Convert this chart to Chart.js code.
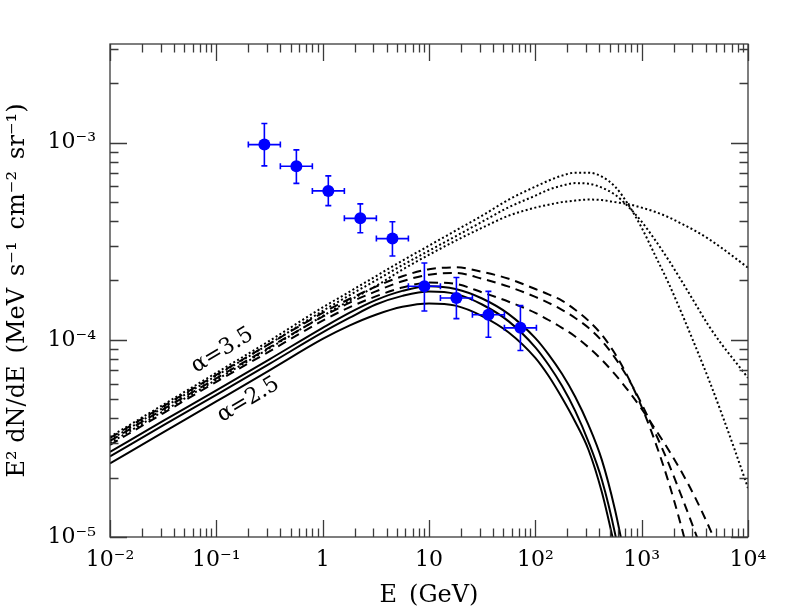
<!DOCTYPE html>
<html>
<head>
<meta charset="utf-8">
<script src="https://cdn.jsdelivr.net/npm/chart.js@4.4.1/dist/chart.umd.min.js"></script>
<style>
  html, body { margin: 0; padding: 0; background: #fff; }
  #wrap { width: 789px; height: 616px; }
</style>
</head>
<body>
<div id="wrap"><canvas id="sedChart" width="789" height="616"></canvas></div>
<script>
// ENERGY GRID (GeV) shared by the model curves
const energyGrid = [0.01, 0.0316, 0.1, 0.316, 1, 1.78, 3.16, 5.62, 10, 17.8, 31.6, 56.2, 100, 133, 178, 237,
  316, 422, 562, 750, 1000, 1330, 1780, 2370, 3160, 4220, 5620, 7500, 10000];

// MODEL CURVES, E^2 dN/dE (MeV s^-1 cm^-2 sr^-1)
const solidHigh = [2.70e-5, 3.88e-5, 5.54e-5, 7.96e-5, 1.15e-4, 1.37e-4, 1.59e-4, 1.77e-4, 1.87e-4, 1.81e-4, 1.62e-4,
  1.35e-4, 1.02e-4, 8.44e-5, 6.72e-5, 5.14e-5, 3.70e-5, 2.46e-5, 1.37e-5, 6.41e-6, null, null, null, null, null, null, null, null, null];
const solidMid = [2.56e-5, 3.68e-5, 5.26e-5, 7.55e-5, 1.09e-4, 1.29e-4, 1.51e-4, 1.67e-4, 1.76e-4, 1.71e-4, 1.51e-4,
  1.24e-4, 9.16e-5, 7.47e-5, 5.84e-5, 4.36e-5, 3.04e-5, 1.95e-5, 1.04e-5, 4.52e-6, null, null, null, null, null, null, null, null, null];
const solidLow = [2.36e-5, 3.39e-5, 4.87e-5, 7.00e-5, 1.01e-4, 1.18e-4, 1.34e-4, 1.47e-4, 1.53e-4, 1.49e-4, 1.32e-4,
  1.09e-4, 8.10e-5, 6.57e-5, 5.08e-5, 3.84e-5, 2.77e-5, 1.69e-5, 8.79e-6, null, null, null, null, null, null, null, null, null, null];

const dashedHigh = [3.18e-5, 4.60e-5, 6.64e-5, 9.54e-5, 1.37e-4, 1.61e-4, 1.86e-4, 2.10e-4, 2.28e-4, 2.33e-4, 2.21e-4,
  2.04e-4, 1.81e-4, 1.70e-4, 1.58e-4, 1.42e-4, 1.25e-4, 1.06e-4, 8.49e-5, 6.41e-5, 4.57e-5, 3.07e-5, 1.92e-5, 1.12e-5,
  6.12e-6, null, null, null, null];
const dashedMid = [3.07e-5, 4.44e-5, 6.38e-5, 9.16e-5, 1.31e-4, 1.54e-4, 1.76e-4, 1.98e-4, 2.14e-4, 2.18e-4, 2.04e-4,
  1.86e-4, 1.65e-4, 1.54e-4, 1.42e-4, 1.29e-4, 1.15e-4, 9.88e-5, 8.10e-5, 6.34e-5, 4.73e-5, 3.41e-5, 2.38e-5, 1.61e-5,
  1.07e-5, 6.96e-6, null, null, null];
const dashedLow = [2.93e-5, 4.24e-5, 6.12e-5, 8.74e-5, 1.25e-4, 1.46e-4, 1.66e-4, 1.84e-4, 1.95e-4, 1.92e-4, 1.74e-4,
  1.56e-4, 1.37e-4, 1.26e-4, 1.15e-4, 1.04e-4, 9.16e-5, 7.91e-5, 6.68e-5, 5.51e-5, 4.46e-5, 3.55e-5, 2.78e-5, 2.14e-5,
  1.60e-5, 1.15e-5, 8.10e-6, null, null];

const dottedHigh = [3.22e-5, 4.68e-5, 6.80e-5, 9.88e-5, 1.46e-4, 1.75e-4, 2.10e-4, 2.52e-4, 3.00e-4, 3.58e-4, 4.26e-4,
  5.14e-4, 5.98e-4, 6.41e-4, 6.80e-4, 7.04e-4, 7.04e-4, 6.72e-4, 5.98e-4, 4.84e-4, 3.70e-4, 2.70e-4, 1.95e-4, 1.37e-4,
  9.43e-5, 6.41e-5, 4.26e-5, 2.77e-5, 1.77e-5];
const dottedMid = [3.11e-5, 4.52e-5, 6.57e-5, 9.54e-5, 1.40e-4, 1.68e-4, 2.00e-4, 2.39e-4, 2.83e-4, 3.35e-4, 3.97e-4,
  4.70e-4, 5.38e-4, 5.77e-4, 6.05e-4, 6.23e-4, 6.19e-4, 5.91e-4, 5.44e-4, 4.73e-4, 3.97e-4, 3.22e-4, 2.55e-4, 1.99e-4,
  1.54e-4, 1.19e-4, 9.54e-5, 7.82e-5, 6.41e-5];
const dottedLow = [3.00e-5, 4.34e-5, 6.27e-5, 9.06e-5, 1.32e-4, 1.58e-4, 1.87e-4, 2.27e-4, 2.70e-4, 3.18e-4, 3.70e-4,
  4.26e-4, 4.68e-4, 4.84e-4, 4.99e-4, 5.08e-4, 5.14e-4, 5.11e-4, 4.99e-4, 4.87e-4, 4.68e-4, 4.46e-4, 4.19e-4, 3.88e-4,
  3.58e-4, 3.26e-4, 2.93e-4, 2.61e-4, 2.32e-4];

// MEASURED POINTS
const dataEnergy = [0.283, 0.566, 1.13, 2.26, 4.53, 9.05, 18.1, 36.2, 72.4];
const dataEnergyLow = [0.2, 0.4, 0.8, 1.6, 3.2, 6.4, 12.8, 25.6, 51.2];
const dataEnergyHigh = [0.4, 0.8, 1.6, 3.2, 6.4, 12.8, 25.6, 51.2, 102.4];
const dataFlux = [9.77e-4, 7.59e-4, 5.69e-4, 4.13e-4, 3.26e-4, 1.87e-4, 1.63e-4, 1.34e-4, 1.15e-4];
const dataFluxLow = [7.62e-4, 6.21e-4, 4.79e-4, 3.49e-4, 2.66e-4, 1.40e-4, 1.28e-4, 1.03e-4, 8.83e-5];
const dataFluxHigh = [1.25e-3, 9.18e-4, 6.78e-4, 4.89e-4, 3.97e-4, 2.45e-4, 2.07e-4, 1.76e-4, 1.49e-4];

// AXES
const xTickValues = [0.01, 0.1, 1, 10, 100, 1000, 10000];
const xTickLabels = ['10\u207B\u00B2', '10\u207B\u00B9', '1', '10', '10\u00B2', '10\u00B3', '10\u2074'];
const yTickValues = [1e-5, 1e-4, 1e-3];
const yTickLabels = ['10\u207B\u2075', '10\u207B\u2074', '10\u207B\u00B3'];

// CURVE LABELS
const curveNotes = [
  { text: '\u03B1=3.5', x: 0.114, y: 8.83e-5 },
  { text: '\u03B1=2.5', x: 0.2, y: 4.96e-5 }
];

Chart.defaults.font.family = "'DejaVu Serif', serif";
Chart.defaults.color = '#000';

function toPoints(xs, ys) {
  return xs.map((x, i) => ({ x: x, y: ys[i] }));
}

function curve(label, values, dash) {
  return {
    label: label,
    data: toPoints(energyGrid, values),
    showLine: true,
    borderColor: '#000',
    borderWidth: 2,
    borderDash: dash,
    borderCapStyle: 'butt',
    pointRadius: 0,
    cubicInterpolationMode: 'monotone',
    clip: 0,
    order: 2
  };
}

// inward ticks on all four sides + frame
const frameTicks = {
  id: 'frameTicks',
  afterDraw(chart) {
    const { ctx, chartArea: a, scales: { x, y } } = chart;
    ctx.save();
    ctx.strokeStyle = '#3a3a3a';
    ctx.lineWidth = 1.3;
    ctx.beginPath();
    for (let p = -2; p <= 4; p++) {
      for (let m = 1; m <= 9; m++) {
        const v = m * Math.pow(10, p);
        if (v > x.max * 1.0001) continue;
        const px = Math.round(x.getPixelForValue(v)) + 0.5;
        const len = m === 1 ? 17 : 8.5;
        ctx.moveTo(px, a.bottom); ctx.lineTo(px, a.bottom - len);
        ctx.moveTo(px, a.top); ctx.lineTo(px, a.top + len);
      }
    }
    for (let p = -5; p <= -3; p++) {
      for (let m = 1; m <= 9; m++) {
        const v = m * Math.pow(10, p);
        if (v > y.max) continue;
        const py = Math.round(y.getPixelForValue(v)) + 0.5;
        const len = m === 1 ? 17 : 8.5;
        ctx.moveTo(a.left, py); ctx.lineTo(a.left + len, py);
        ctx.moveTo(a.right, py); ctx.lineTo(a.right - len, py);
      }
    }
    ctx.stroke();
    ctx.strokeRect(a.left, a.top, a.right - a.left, a.bottom - a.top);
    ctx.restore();
  }
};

// error bars for the measured points
const errorBars = {
  id: 'errorBars',
  afterDatasetsDraw(chart) {
    const { ctx, scales: { x, y } } = chart;
    ctx.save();
    ctx.strokeStyle = '#0000ff';
    ctx.lineWidth = 1.6;
    ctx.beginPath();
    dataEnergy.forEach((e, i) => {
      const cx = x.getPixelForValue(e);
      const cy = y.getPixelForValue(dataFlux[i]);
      const x0 = x.getPixelForValue(dataEnergyLow[i]);
      const x1 = x.getPixelForValue(dataEnergyHigh[i]);
      const y0 = y.getPixelForValue(dataFluxLow[i]);
      const y1 = y.getPixelForValue(dataFluxHigh[i]);
      ctx.moveTo(x0, cy); ctx.lineTo(x1, cy);
      ctx.moveTo(x0, cy - 3); ctx.lineTo(x0, cy + 3);
      ctx.moveTo(x1, cy - 3); ctx.lineTo(x1, cy + 3);
      ctx.moveTo(cx, y0); ctx.lineTo(cx, y1);
      ctx.moveTo(cx - 3, y0); ctx.lineTo(cx + 3, y0);
      ctx.moveTo(cx - 3, y1); ctx.lineTo(cx + 3, y1);
    });
    ctx.stroke();
    ctx.restore();
  }
};

// rotated alpha labels next to the curves
const notes = {
  id: 'notes',
  afterDatasetsDraw(chart) {
    const { ctx, scales: { x, y } } = chart;
    ctx.save();
    ctx.font = "22px 'DejaVu Serif', serif";
    ctx.fillStyle = '#000';
    ctx.textAlign = 'center';
    ctx.textBaseline = 'middle';
    curveNotes.forEach(n => {
      ctx.save();
      ctx.translate(x.getPixelForValue(n.x), y.getPixelForValue(n.y));
      ctx.rotate(-31 * Math.PI / 180);
      ctx.fillText(n.text, 0, 0);
      ctx.restore();
    });
    ctx.restore();
  }
};

const ctx = document.getElementById('sedChart');
const chart = new Chart(ctx, {
  type: 'scatter',
  data: {
    datasets: [
      {
        label: 'Data',
        data: toPoints(dataEnergy, dataFlux),
        showLine: false,
        pointRadius: 6,
        pointBackgroundColor: '#0000ff',
        pointBorderColor: '#0000ff',
        pointBorderWidth: 0,
        order: 1
      },
      curve('solid 1', solidHigh, []),
      curve('solid 2', solidMid, []),
      curve('solid 3', solidLow, []),
      curve('dashed 1', dashedHigh, [9, 6]),
      curve('dashed 2', dashedMid, [9, 6]),
      curve('dashed 3', dashedLow, [9, 6]),
      curve('dotted 1', dottedHigh, [2, 2.5]),
      curve('dotted 2', dottedMid, [2, 2.5]),
      curve('dotted 3', dottedLow, [2, 2.5])
    ]
  },
  options: {
    responsive: false,
    animation: false,
    events: [],
    layout: { padding: { left: 0, right: 41, top: 44, bottom: 0 } },
    plugins: {
      legend: { display: false },
      tooltip: { enabled: false }
    },
    scales: {
      x: {
        type: 'logarithmic',
        min: 0.01,
        max: 10000,
        grid: { display: false, drawTicks: false },
        border: { display: false },
        afterBuildTicks: (scale) => { scale.ticks = xTickValues.map(v => ({ value: v })); },
        afterFit: (scale) => { scale.height = 79; },
        ticks: {
          autoSkip: false,
          maxRotation: 0,
          padding: 10,
          font: { size: 22 },
          callback: (value) => {
            const i = xTickValues.indexOf(value);
            return i >= 0 ? xTickLabels[i] : '';
          }
        },
        title: {
          display: true,
          text: 'E\u2002(GeV)',
          font: { size: 24 },
          padding: { top: 0, bottom: 6 }
        }
      },
      y: {
        type: 'logarithmic',
        min: 1e-5,
        max: 3.162e-3,
        grid: { display: false, drawTicks: false },
        border: { display: false },
        afterBuildTicks: (scale) => { scale.ticks = yTickValues.map(v => ({ value: v })); },
        afterFit: (scale) => { scale.width = 110; },
        ticks: {
          autoSkip: false,
          padding: 14,
          font: { size: 22 },
          callback: (value) => {
            const i = yTickValues.indexOf(value);
            return i >= 0 ? yTickLabels[i] : '';
          }
        },
        title: {
          display: true,
          text: 'E\u00B2 dN/dE\u2002(MeV\u2002s\u207B\u00B9\u2002cm\u207B\u00B2\u2002sr\u207B\u00B9)',
          font: { size: 24 },
          padding: { top: 3, bottom: 0 }
        }
      }
    }
  },
  plugins: [frameTicks, errorBars, notes]
});
</script>
</body>
</html>
